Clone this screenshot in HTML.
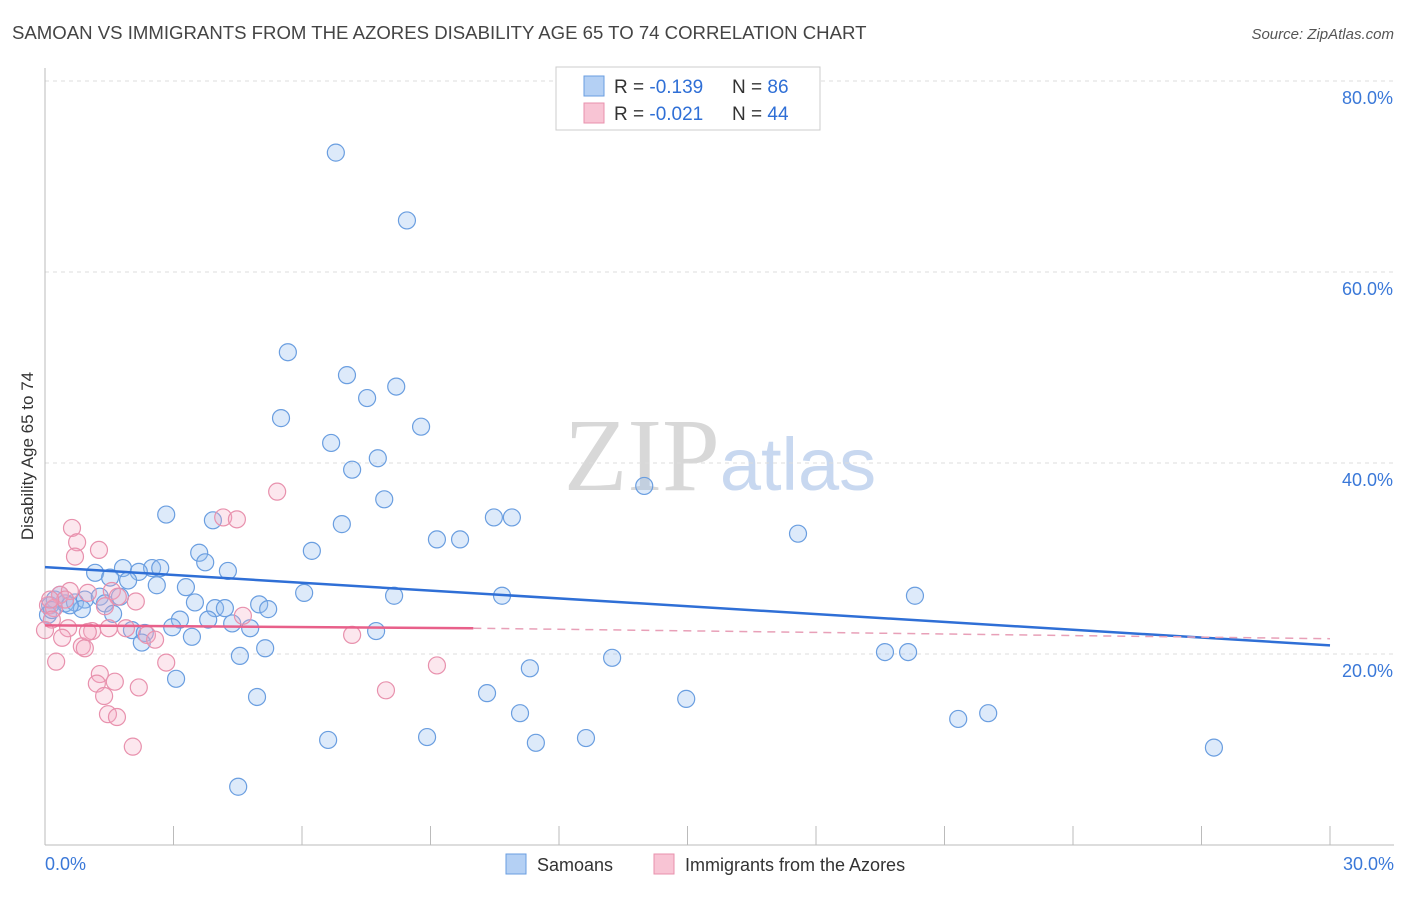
<!DOCTYPE html>
<html><head><meta charset="utf-8"><style>
body{margin:0;background:#fff;font-family:"Liberation Sans",sans-serif;}
svg text{font-family:"Liberation Sans",sans-serif;}
</style></head><body>
<svg id="chart" width="1406" height="892" xmlns="http://www.w3.org/2000/svg">
<text x="12" y="39" font-size="18.6" fill="#444">SAMOAN VS IMMIGRANTS FROM THE AZORES DISABILITY AGE 65 TO 74 CORRELATION CHART</text>
<text x="1394" y="39" font-size="15" fill="#555" text-anchor="end" font-style="italic">Source: ZipAtlas.com</text>
<text x="720" y="490" font-size="104" text-anchor="middle"><tspan fill="#d8d8d8" font-family="Liberation Serif">ZIP</tspan><tspan fill="#c8d8f0" font-size="74">atlas</tspan></text>
<g id="grid"></g>
<g id="axes"></g>
<text transform="translate(33,456) rotate(-90)" font-size="17" fill="#333" text-anchor="middle">Disability Age 65 to 74</text>
<g id="pts-blue"></g>
<g id="pts-pink"></g>
<g id="trends"></g>
<g>
<rect x="556" y="67" width="264" height="63" fill="#fff" stroke="#ccc"/>
<rect x="584" y="76" width="20" height="20" fill="#b4d0f4" stroke="#6a9ee0"/>
<rect x="584" y="103" width="20" height="20" fill="#f8c4d4" stroke="#e891ad"/>
<text x="614" y="93" font-size="19" fill="#333">R = <tspan fill="#2f6fd6">-0.139</tspan></text>
<text x="732" y="93" font-size="19" fill="#333">N = <tspan fill="#2f6fd6">86</tspan></text>
<text x="614" y="120" font-size="19" fill="#333">R = <tspan fill="#2f6fd6">-0.021</tspan></text>
<text x="732" y="120" font-size="19" fill="#333">N = <tspan fill="#2f6fd6">44</tspan></text>
</g>
<g>
<rect x="506" y="854" width="20" height="20" fill="#b4d0f4" stroke="#6a9ee0"/>
<text x="537" y="871" font-size="18" fill="#333">Samoans</text>
<rect x="654" y="854" width="20" height="20" fill="#f8c4d4" stroke="#e891ad"/>
<text x="685" y="871" font-size="18" fill="#333">Immigrants from the Azores</text>
</g>
</svg>
<script>
const yTicks=[20,40,60,80];
const yTickLabels=["20.0%","40.0%","60.0%","80.0%"];
const xTicks=[0,3,6,9,12,15,18,21,24,27,30];
const blueX=[6.79,8.45,5.67,7.05,8.20,7.52,5.51,8.78,6.68,7.77,7.17,13.99,7.92,2.83,3.92,10.48,10.90,6.93,9.15,9.69,17.58,6.23,3.60,3.74,1.82,2.50,2.69,1.17,1.52,2.19,4.27,1.94,3.29,2.61,6.05,8.15,10.67,20.31,0.23,0.47,0.70,0.93,1.28,1.75,1.40,3.50,5.00,3.97,4.20,5.21,0.12,0.07,0.86,1.59,3.15,4.37,4.79,3.81,2.97,2.03,2.33,3.43,2.26,7.73,5.14,4.55,11.32,13.24,19.61,20.15,3.06,4.95,10.32,14.97,11.09,21.32,22.02,6.61,8.92,11.46,12.63,27.29,4.51,0.35,0.58,0.16];
const blueY=[72.5,65.4,51.6,49.2,48.0,46.8,44.7,43.8,42.1,40.5,39.3,37.6,36.2,34.6,34.0,34.3,34.3,33.6,32.0,32.0,32.6,30.8,30.6,29.6,29.0,29.0,29.0,28.5,28.0,28.6,28.7,27.7,27.0,27.2,26.4,26.1,26.1,26.1,25.7,25.3,25.4,25.7,26.0,26.0,25.3,25.4,25.2,24.8,24.8,24.7,25.1,24.1,24.7,24.2,23.6,23.2,22.7,23.6,22.8,22.5,22.2,21.8,21.2,22.4,20.6,19.8,18.5,19.6,20.2,20.2,17.4,15.5,15.9,15.3,13.8,13.2,13.8,11.0,11.3,10.7,11.2,10.2,6.1,26.2,25.1,24.6];
const pinkX=[0.63,0.75,0.70,1.26,4.16,4.48,5.42,0.35,0.58,1.00,1.56,1.70,2.12,0.07,0.21,0.47,0.16,1.40,0.54,1.10,0.40,0.86,0.93,1.49,1.89,2.38,2.57,1.00,4.62,7.17,0.26,2.83,9.15,1.28,1.21,1.63,2.19,7.96,1.38,1.47,1.68,2.05,0.0,0.12];
const pinkY=[33.2,31.7,30.2,30.9,34.3,34.1,37.0,26.2,26.6,26.4,26.6,26.0,25.5,25.1,24.8,25.7,23.6,25.0,22.7,22.4,21.7,20.8,20.6,22.7,22.7,22.0,21.5,22.3,24.0,22.0,19.2,19.1,18.8,17.9,16.9,17.1,16.5,16.2,15.6,13.7,13.4,10.3,22.5,25.7];
const blueTrend=[0,29.1,30,20.9];
const pinkTrend=[0,23.0,10,22.7,30,21.6];
const NS="http://www.w3.org/2000/svg";
const sx=v=>45+v/30*1285, sy=v=>845-v/20*191;
function mk(tag,attrs,parent){const e=document.createElementNS(NS,tag);for(const k in attrs)e.setAttribute(k,attrs[k]);parent.appendChild(e);return e;}
const grid=document.getElementById('grid'),axes=document.getElementById('axes');
yTicks.forEach((t,i)=>{
 const l=mk('line',{x1:45,x2:1394,y1:sy(t),y2:sy(t),stroke:'#ddd','stroke-dasharray':'4,4'},grid);
 
 
 const tx=mk('text',{x:1393,y:sy(t)+23,'font-size':18,fill:'#3a78d8','text-anchor':'end'},axes);
 tx.textContent=yTickLabels[i];
 
 
});
mk('line',{x1:45,x2:45,y1:68,y2:845,stroke:'#bbb'},axes);
mk('line',{x1:45,x2:1394,y1:845,y2:845,stroke:'#bbb'},axes);
xTicks.forEach(t=>{
 const l=mk('line',{x1:sx(t),x2:sx(t),y1:826,y2:845,stroke:'#bbb'},axes);
 
 
});
const x0=mk('text',{x:45,y:870,'font-size':18,fill:'#3a78d8'},axes);x0.textContent='0.0%';


const x1=mk('text',{x:1394,y:870,'font-size':18,fill:'#3a78d8','text-anchor':'end'},axes);x1.textContent='30.0%';


const gb=document.getElementById('pts-blue'),gp=document.getElementById('pts-pink');
blueX.forEach((v,i)=>{const c=mk('circle',{cx:sx(v),cy:sy(blueY[i]),r:8.5,fill:'rgba(150,190,240,0.32)',stroke:'#6a9ee0','stroke-width':1.2},gb);
 
 });
pinkX.forEach((v,i)=>{const c=mk('circle',{cx:sx(v),cy:sy(pinkY[i]),r:8.5,fill:'rgba(245,170,195,0.28)',stroke:'#e891ad','stroke-width':1.2},gp);
 
 });
const tr=document.getElementById('trends');
const b=mk('line',{x1:sx(blueTrend[0]),y1:sy(blueTrend[1]),x2:sx(blueTrend[2]),y2:sy(blueTrend[3]),stroke:'#2f6fd6','stroke-width':2.5},tr);


const p=mk('line',{x1:sx(pinkTrend[0]),y1:sy(pinkTrend[1]),x2:sx(pinkTrend[2]),y2:sy(pinkTrend[3]),stroke:'#e8608a','stroke-width':2.5},tr);


const pd=mk('line',{x1:sx(pinkTrend[2]),y1:sy(pinkTrend[3]),x2:sx(pinkTrend[4]),y2:sy(pinkTrend[5]),stroke:'#e8a0b8','stroke-width':1.5,'stroke-dasharray':'8,6'},tr);


</script>
</body></html>
